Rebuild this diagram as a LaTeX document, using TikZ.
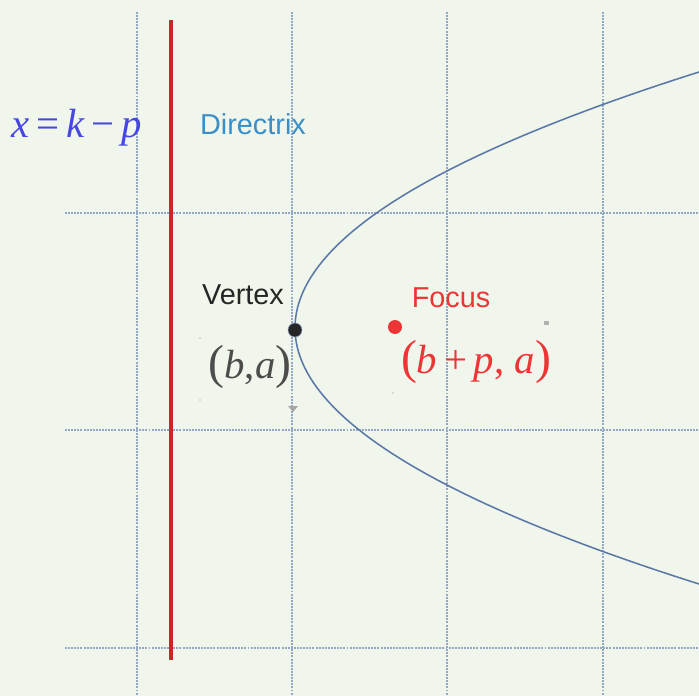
\documentclass[tikz,border=0pt]{standalone}
\usepackage{fontspec}
\setmainfont{Liberation Serif}
\newfontfamily\labelfont{Liberation Sans}
\usepackage{tikz}
\usetikzlibrary{positioning, calc}
\definecolor{bgpaper}{HTML}{F1F6EC}
\definecolor{gridblue}{HTML}{93A8C4}
\definecolor{dirred}{HTML}{C62828}
\definecolor{curveblue}{HTML}{5A78A8}
\definecolor{dirtext}{HTML}{3A8FC8}
\definecolor{eqblue}{HTML}{4646E0}
\definecolor{focusred}{HTML}{EE3535}
\tikzset{
    gridline/.style={gridblue, line width=2pt, dash pattern=on 1.4pt off 0.8pt},
    directrix/.style={dirred, line width=2.8pt},
    parabola/.style={curveblue, line width=1.1pt},
    sanslabel/.style={font=\labelfont\fontsize{20.5}{24}\selectfont, inner sep=0pt},
    mathlabel/.style={font=\fontsize{29}{34}\selectfont, inner sep=0pt}
}
\newcommand{\bp}[1]{{\fontsize{34}{38}\selectfont #1}}
\begin{document}
\begin{tikzpicture}[x=0.025cm, y=-0.025cm]
    \fill[bgpaper] (0,0) rectangle (699,696);
    \useasboundingbox (0,0) rectangle (699,696);

    % grid
    \foreach \gx in {137, 292, 447, 603}
        \draw[gridline] (\gx,12) -- (\gx,696);
    \foreach \gy in {213, 430, 648}
        \draw[gridline] (65,\gy) -- (699,\gy);

    % directrix
    \draw[directrix] (171,20) -- (171,660);

    % parabola
    \begin{scope}
        \clip (0,0) rectangle (699,696);
        \draw[parabola, domain=30:630, samples=120, variable=\t]
            plot ({295+0.00616*(\t-328)*(\t-328)}, \t);
    \end{scope}

    % small marks
    \fill[gray!70] (288,406) -- (298,406) -- (293,412) -- cycle;
    \fill[gray!60] (544,321) rectangle (549,325);
    \fill[gray!50] (200,338) circle (0.8);
    \fill[gray!50] (200,400) circle (0.8);
    \fill[gray!50] (393,393) circle (0.8);

    % points
    \fill[black!85, draw=curveblue!70, line width=0.4pt] (295,330) circle (7);
    \fill[focusred] (395,327) circle (7);

    % labels
    \node (eqn) [mathlabel, eqblue] at (77,128) {\textit{x}\,=\,\textit{k}\,−\,\textit{p}};
    \node (dirlbl) [sanslabel, dirtext] at (253,124) {Directrix};
    \node (vtxlbl) [sanslabel, black!85] at (243,295) {Vertex};
    \node (vtxco) [mathlabel, black!70] at (250,367) {\bp{(}\textit{b},\textit{a}\bp{)}};
    \node (foclbl) [sanslabel, focusred] at (451,298) {Focus};
    \node (focco) [mathlabel, focusred] at (476,362) {\bp{(}\textit{b}\,+\,\textit{p}, \textit{a}\bp{)}};
\end{tikzpicture}
\end{document}
